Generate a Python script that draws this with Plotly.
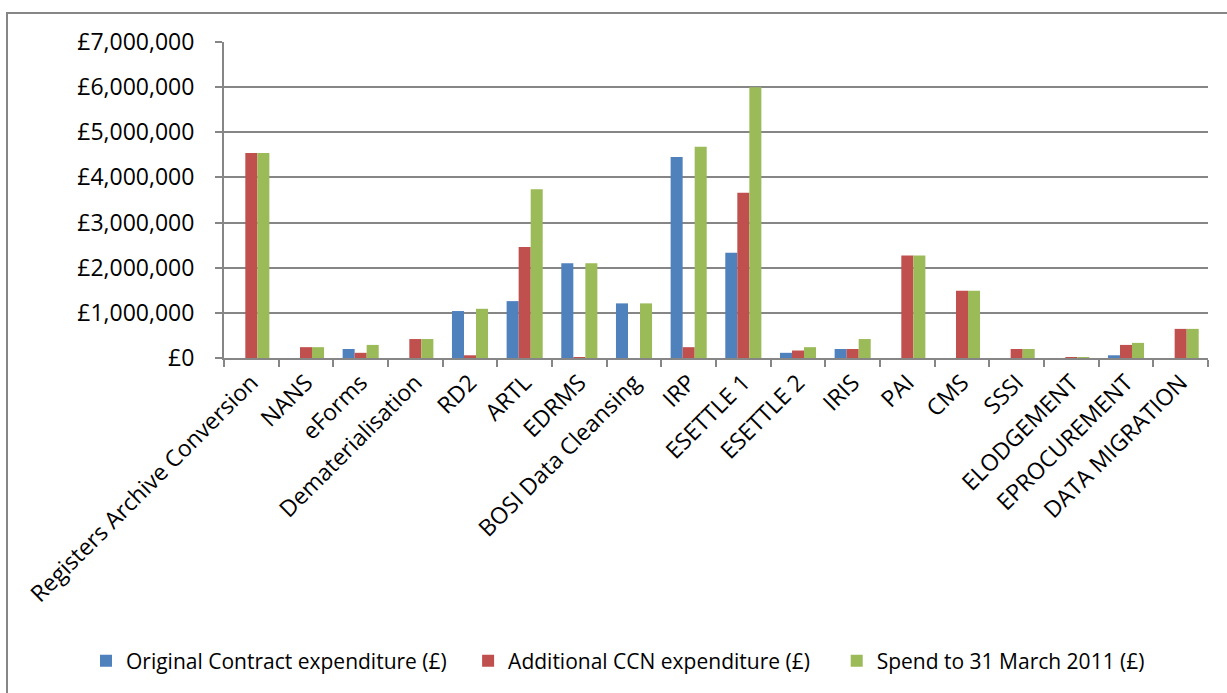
import plotly.graph_objects as go

categories = ["Registers Archive Conversion", "NANS", "eForms", "Dematerialisation", "RD2", "ARTL",
              "EDRMS", "BOSI Data Cleansing", "IRP", "ESETTLE 1", "ESETTLE 2", "IRIS", "PAI", "CMS",
              "SSSI", "ELODGEMENT", "EPROCUREMENT", "DATA MIGRATION"]

original_contract = [0, 0, 200000, 0, 1040000, 1260000, 2100000, 1210000, 4450000, 2330000,
                     115000, 200000, 0, 0, 0, 0, 60000, 0]
additional_ccn = [4540000, 240000, 115000, 420000, 60000, 2460000, 20000, 0, 240000, 3660000,
                  166000, 200000, 2270000, 1490000, 200000, 20000, 290000, 645000]
spend_to_2011 = [4540000, 240000, 290000, 420000, 1090000, 3740000, 2100000, 1210000, 4680000, 6000000,
                 240000, 420000, 2270000, 1490000, 200000, 20000, 335000, 645000]

series_names = ["Original Contract expenditure (£)", "Additional CCN expenditure (£)",
                "Spend to 31 March 2011 (£)"]
series_colors = ["#4F81BD", "#C0504D", "#9BBB59"]
y_ticks = [0, 1000000, 2000000, 3000000, 4000000, 5000000, 6000000, 7000000]
y_tick_labels = ["£0", "£1,000,000", "£2,000,000", "£3,000,000", "£4,000,000",
                 "£5,000,000", "£6,000,000", "£7,000,000"]

FONT = "Open Sans"
GRID = "#868686"
NBSP = "\u00a0"
legend_pad = [3, 4, 0]

fig = go.Figure()
for name, vals, col, pad in zip(series_names, [original_contract, additional_ccn, spend_to_2011],
                                series_colors, legend_pad):
    fig.add_trace(go.Bar(name=name + NBSP * pad, x=categories, y=vals, marker_color=col,
                         marker_line_width=0))

L, R, T, B = 224, 19, 42, 334.5
W, H = 1227, 693
pw, ph = W - L - R, H - T - B

fig.update_layout(
    width=W, height=H,
    margin=dict(l=L, r=R, t=T, b=B, autoexpand=False),
    paper_bgcolor="white", plot_bgcolor="white",
    barmode="group", bargap=0.34, bargroupgap=0,
    font=dict(family=FONT, color="black"),
    showlegend=True,
    legend=dict(orientation="h", x=(86 - L) / pw, xanchor="left",
                y=(H - B - 662) / ph, yanchor="middle",
                font=dict(size=21, family=FONT), itemwidth=30,
                traceorder="normal", bgcolor="rgba(0,0,0,0)"),
    xaxis=dict(type="category", tickangle=-45, tickfont=dict(size=23, family=FONT),
               showline=True, linecolor=GRID, linewidth=2,
               ticks="outside", tickson="boundaries", ticklen=7, tickcolor=GRID, tickwidth=2,
               showgrid=False, mirror=False),
    yaxis=dict(range=[0, 7000000], tickvals=y_ticks, ticktext=y_tick_labels,
               tickfont=dict(size=23, family=FONT),
               showgrid=True, gridcolor=GRID, gridwidth=2,
               showline=True, linecolor=GRID, linewidth=2,
               ticks="outside", ticklen=7, tickcolor=GRID, tickwidth=2,
               ticklabelstandoff=16, zeroline=False),
    shapes=[dict(type="rect", xref="paper", yref="paper",
                 x0=(7 - L) / pw, x1=(1240 - L) / pw,
                 y0=(H - B - 720) / ph, y1=(H - B - 13) / ph,
                 line=dict(color=GRID, width=2), fillcolor="rgba(0,0,0,0)", layer="below")],
)

fig.write_html("out.html")
